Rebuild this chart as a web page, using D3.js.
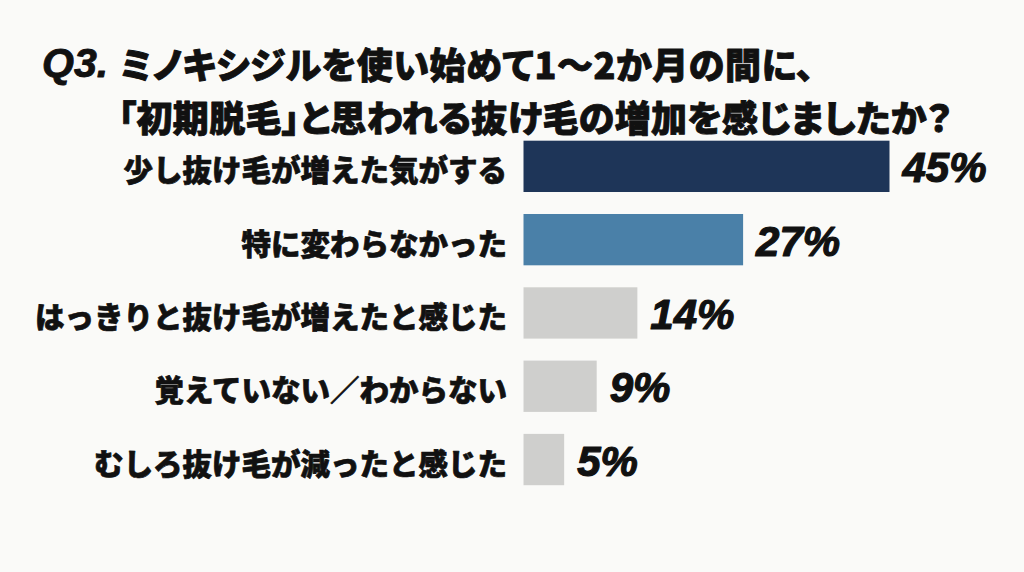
<!DOCTYPE html>
<html><head><meta charset="utf-8">
<script src="https://cdn.jsdelivr.net/npm/d3@7"></script>
<style>
html,body{margin:0;padding:0;background:#fafaf8;}
svg{display:block;}
.palt{font-feature-settings:"palt" 1;}
</style></head>
<body>
<script>
const titleLine1Prefix = "Q3.";
const titleLine1 = "ミノキシジルを使い始めて1〜2か月の間に、";
const titleLine2 = "「初期脱毛」と思われる抜け毛の増加を感じましたか？";
const categories = ["少し抜け毛が増えた気がする","特に変わらなかった","はっきりと抜け毛が増えたと感じた","覚えていない／わからない","むしろ抜け毛が減ったと感じた"];
const values = [45, 27, 14, 9, 5];
const barColors = ["#1e3558", "#4a80a8", "#cfcfcd", "#cfcfcd", "#cfcfcd"];

const W = 1024, H = 572;
const svg = d3.select("body").append("svg").attr("width", W).attr("height", H);
svg.append("rect").attr("width", W).attr("height", H).attr("fill", "#fafaf8");

const jp = "'Noto Sans CJK JP','Noto Sans CJK SC',sans-serif";
const lat = "'Liberation Sans',Arial,sans-serif";
const ink = "#111";

// Title
const t1 = svg.append("text").attr("x", 42).attr("y", 63)
  .attr("dominant-baseline", "central").attr("fill", ink)
  .attr("stroke", ink).attr("stroke-width", 0.9).attr("stroke-linejoin", "round");
t1.append("tspan").attr("font-family", lat).attr("font-weight", 700)
  .attr("font-style", "italic").attr("font-size", 41).text(titleLine1Prefix);
t1.append("tspan").attr("x", 120).attr("class", "palt").attr("font-family", jp).attr("font-weight", 900)
  .attr("font-size", 36).attr("letter-spacing", 0.6).text(titleLine1);
svg.append("text").attr("x", 952).attr("y", 116).attr("text-anchor", "end")
  .attr("class", "palt")
  .attr("dominant-baseline", "central").attr("fill", ink)
  .attr("stroke", ink).attr("stroke-width", 0.9).attr("stroke-linejoin", "round")
  .attr("font-family", jp).attr("font-weight", 900).attr("font-size", 36)
  .attr("letter-spacing", 0.3)
  .text(titleLine2);

// Scales
const x = d3.scaleLinear().domain([0, 45]).range([523.5, 889.5]);
const y = d3.scaleBand().domain(categories).range([129.7, 496.2])
  .paddingInner(0.3).paddingOuter(0.15);

const rows = categories.map((c, i) => ({c, v: values[i], col: barColors[i]}));

svg.selectAll("rect.bar").data(rows).join("rect").attr("class", "bar")
  .attr("x", x(0)).attr("y", d => y(d.c))
  .attr("width", d => x(d.v) - x(0)).attr("height", y.bandwidth())
  .attr("fill", d => d.col);

svg.selectAll("text.cat").data(rows).join("text").attr("class", "cat")
  .attr("x", 507).attr("y", d => y(d.c) + y.bandwidth() / 2 + 2)
  .attr("text-anchor", "end").attr("dominant-baseline", "central")
  .attr("font-family", jp).attr("font-weight", 900).attr("font-size", 29.5)
  .attr("fill", ink).attr("stroke", ink).attr("stroke-width", 0.7)
  .attr("stroke-linejoin", "round").text(d => d.c);

svg.selectAll("text.val").data(rows).join("text").attr("class", "val")
  .attr("x", d => x(d.v) + 13).attr("y", d => y(d.c) + y.bandwidth() / 2 + 16)
  .attr("font-family", lat).attr("font-weight", 700).attr("font-style", "italic")
  .attr("font-size", 42).attr("fill", ink).attr("stroke", ink).attr("stroke-width", 1.2)
  .attr("stroke-linejoin", "round").text(d => d.v + "%");
</script>
</body></html>
